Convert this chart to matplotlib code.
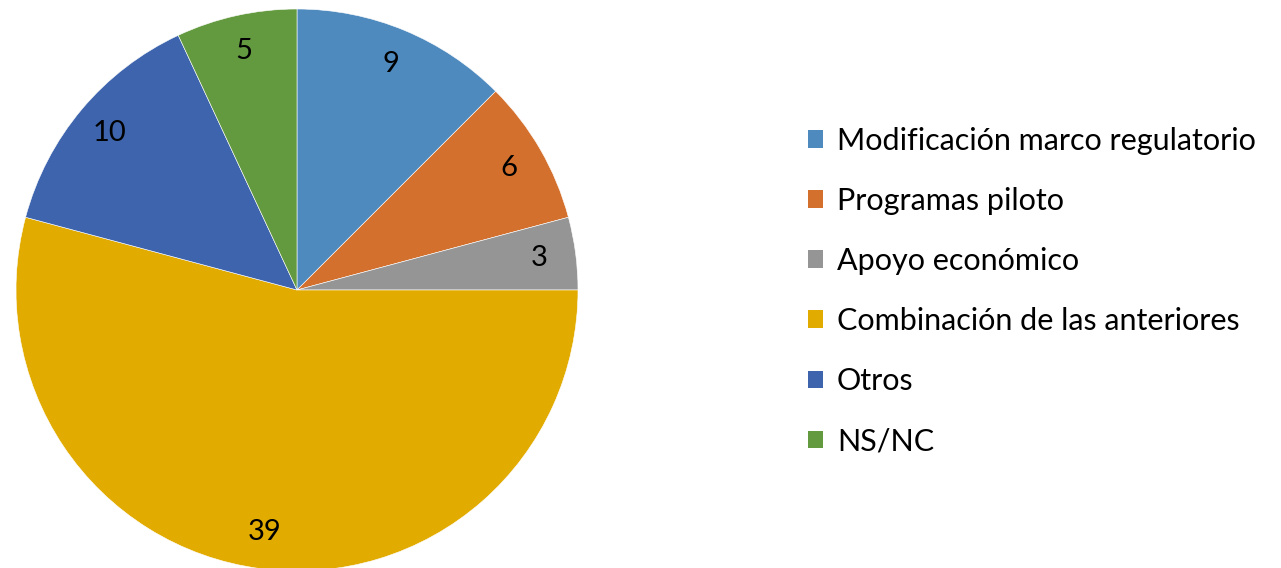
import matplotlib.pyplot as plt
from matplotlib.patches import Patch

categorias = ["Modificación marco regulatorio", "Programas piloto", "Apoyo económico",
              "Combinación de las anteriores", "Otros", "NS/NC"]
valores = [9, 6, 3, 39, 10, 5]
colores = ["#4F8ABE", "#D4702D", "#959595", "#E2AB00", "#3D64AD", "#639A3F"]

plt.rcParams['font.family'] = ['Lato', 'DejaVu Sans']

fig = plt.figure(figsize=(12.81, 5.68), dpi=100)
# centro del pie en (297, 290) px, radio ~281 px
ax = fig.add_axes([(297 - 281) / 1281, (568 - 290 - 281) / 568, 562 / 1281, 562 / 568])

wedges, textos, numeros = ax.pie(valores, colors=colores, startangle=90, counterclock=False,
                                 autopct=lambda p: "%d" % round(p * sum(valores) / 100),
                                 pctdistance=0.87, radius=1,
                                 wedgeprops=dict(edgecolor="white", linewidth=0.4),
                                 textprops=dict(fontsize=21, color="black"))
ax.set_xlim(-1, 1)
ax.set_ylim(-1, 1)
ax.set_aspect("equal")

manejadores = [Patch(facecolor=c, edgecolor="none") for c in colores]
fig.legend(manejadores, categorias, loc="center left", bbox_to_anchor=(808 / 1281, 1 - 291 / 568),
           frameon=False, fontsize=22, handlelength=0.5, handleheight=0.5, handletextpad=0.45,
           labelspacing=1.05, borderpad=0, borderaxespad=0)

fig.savefig("out.png", dpi=100)
